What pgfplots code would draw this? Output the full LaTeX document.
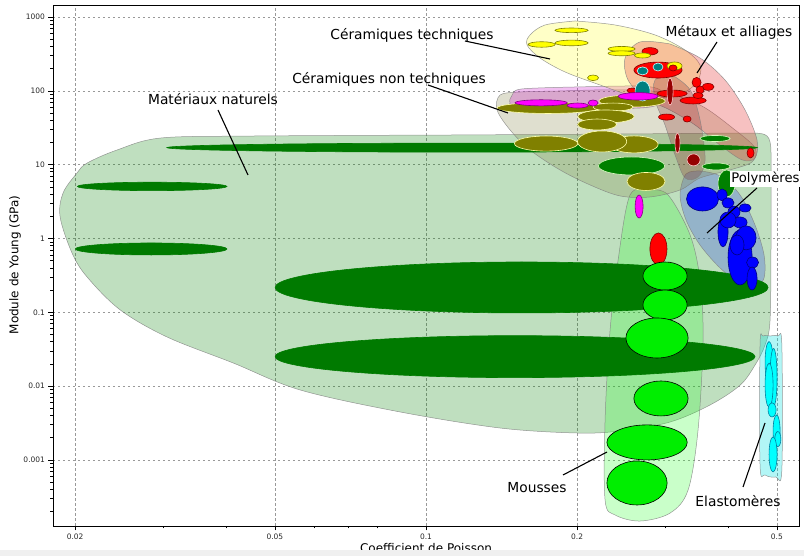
\documentclass[border=0pt]{standalone}
\usepackage{fontspec}
\setmainfont{DejaVu Sans}
\usepackage{pgfplots}
\pgfplotsset{compat=1.18}

% canvas length of one decade on each log axis (axis size / logarithmic span)
\newcommand\xdec{502}
\newcommand\ydec{73.83}
\newcommand\lab{\fontsize{13.8}{16}\selectfont}

\definecolor{envNat}{RGB}{0,128,0}
\definecolor{envFoam}{RGB}{40,255,40}
\definecolor{envPoly}{RGB}{70,100,220}
\definecolor{envElast}{RGB}{0,225,225}
\definecolor{envOlive}{RGB}{128,128,64}
\definecolor{envGlass}{RGB}{200,0,200}
\definecolor{envTech}{RGB}{255,255,0}
\definecolor{envMet}{RGB}{230,50,50}
\definecolor{envComp}{RGB}{128,30,30}

\definecolor{cDkGreen}{RGB}{0,122,0}
\definecolor{cGreen}{RGB}{0,128,0}
\definecolor{cGreenE}{RGB}{215,250,190}
\definecolor{cOlive}{RGB}{128,128,0}
\definecolor{cOliveE}{RGB}{255,255,170}
\definecolor{cRed}{RGB}{255,0,0}
\definecolor{cRedE}{RGB}{128,0,0}
\definecolor{cDkRed}{RGB}{150,0,0}
\definecolor{cDkRedE}{RGB}{255,200,200}
\definecolor{cTeal}{RGB}{0,128,128}
\definecolor{cTealE}{RGB}{200,255,255}
\definecolor{cYellow}{RGB}{255,255,0}
\definecolor{cYellowE}{RGB}{128,128,0}
\definecolor{cMag}{RGB}{255,0,255}
\definecolor{cMagE}{RGB}{128,0,128}
\definecolor{cLime}{RGB}{0,238,0}
\definecolor{cBlue}{RGB}{0,0,255}
\definecolor{cBlueE}{RGB}{0,0,130}
\definecolor{cCyan}{RGB}{0,255,255}
\definecolor{cCyanE}{RGB}{0,128,160}

% a property range: ellipse centred on (x,y), half-widths dx, dy given in decades
\pgfdeclareplotmark{proprange}{%
  \pgfpathellipse{\pgfpointorigin}{\pgfqpoint{\ellrx pt}{0pt}}{\pgfqpoint{0pt}{\ellry pt}}%
  \pgfusepathqfillstroke}

\pgfplotsset{
  family/.style 2 args={
    only marks, scatter, mark=proprange,
    visualization depends on={\xdec*\thisrow{dx} \as \ellrx},
    visualization depends on={\ydec*\thisrow{dy} \as \ellry},
    scatter/@pre marker code/.code={\scope[fill=#1,draw=#2,line width=0.6pt]},
    scatter/@post marker code/.code={\endscope},
  },
  env/.style={smooth, tension=0.55, fill=#1, fill opacity=0.25,
    draw=black!50, draw opacity=0.8, line width=0.5pt},
}

\begin{document}
\begin{tikzpicture}
\begin{axis}[
  width=746pt, height=521pt, scale only axis,
  xmode=log, ymode=log,
  xmin=0.01807, xmax=0.5535, ymin=1.276e-4, ymax=1453,
  xtick={0.02,0.05,0.1,0.2,0.5}, xticklabels={0.02,0.05,0.1,0.2,0.5},
  minor xtick={0.03,0.04,0.06,0.07,0.08,0.3,0.4},
  ytick={0.001,0.01,0.1,1,10,100,1000},
  yticklabels={0.001,0.01,0.1,1,10,100,1000},
  minor ytick={0.0002,0.0003,0.0004,0.0005,0.0006,0.0007,0.0008,0.0009,
    0.002,0.003,0.004,0.005,0.006,0.007,0.008,0.009,
    0.02,0.03,0.04,0.05,0.06,0.07,0.08,0.09,
    0.2,0.3,0.4,0.5,0.6,0.7,0.8,0.9,
    2,3,4,5,6,7,8,9, 20,30,40,50,60,70,80,90,
    200,300,400,500,600,700,800,900},
  xtick pos=bottom, ytick pos=left,
  tick align=outside,
  major tick length=4.5pt, minor tick length=2.5pt,
  tick style={black, line width=0.6pt},
  axis line style={black, line width=0.8pt},
  grid=major,
  major grid style={black!40, dash pattern=on 2.5pt off 2.5pt, line width=0.6pt},
  tick label style={font=\fontsize{7.5}{9}\selectfont, text=black!85},
  /pgf/number format/assume math mode=true,
]

% ---------- family envelopes ----------
% Matériaux naturels
\addplot[env=envNat] coordinates {
 (0.1117,25.2) (0.2436,26.0) (0.4224,26.8) (0.4629,26.4) (0.4780,24.4)
 (0.4847,20.2) (0.4869,13.5) (0.4869,3.32) (0.4869,0.954)
 (0.4847,0.0786) (0.4736,0.036) (0.4524,0.0193) (0.4224,0.0103) (0.3681,0.00556)
 (0.3064,0.00327) (0.2436,0.00247) (0.2,0.00232) (0.1405,0.00271) (0.08884,0.00447)
 (0.05614,0.00888) (0.0413,0.0206) (0.0305,0.0463) (0.02459,0.108) (0.02113,0.301)
 (0.01972,0.636) (0.01867,1.96) (0.01893,4.14) (0.02018,7.72) (0.02113,10.5)
 (0.02425,15.8) (0.02954,22.9) (0.04464,24.4) (0.1117,25.2)};
% Mousses
\addplot[env=envFoam] coordinates {
 (0.2795,4.54) (0.3036,3.89) (0.3359,1.115) (0.3516,0.274) (0.3565,0.0421)
 (0.3484,0.00255) (0.3328,0.000392) (0.3064,0.000191) (0.2670,0.000149)
 (0.2381,0.00018) (0.2274,0.000287) (0.2274,0.00348) (0.2327,0.0576)
 (0.2414,0.511) (0.2550,3.89) (0.2795,4.54)};
% Polymères
\addplot[env=envPoly, fill opacity=0.35] coordinates {
 (0.3516,8.21) (0.3854,7.03) (0.4224,3.89) (0.4524,1.52) (0.4715,0.598)
 (0.4715,0.292) (0.4524,0.220) (0.4224,0.249) (0.3854,0.399) (0.3516,0.816)
 (0.3297,1.78) (0.3208,3.89) (0.3297,7.48) (0.3516,8.21)};
% Elastomères
\addplot[env=envElast, fill opacity=0.3] coordinates {
 (0.4847,0.0477) (0.5023,0.0477) (0.5116,0.0360) (0.5116,0.000732)
 (0.4977,0.000589) (0.4736,0.000627) (0.4629,0.000856) (0.4629,0.0360)
 (0.4693,0.0477) (0.4847,0.0477)};
% Céramiques non techniques
\addplot[env=envOlive] coordinates {
 (0.1850,99.5) (0.2327,103) (0.2926,96.3) (0.3516,64.2) (0.4127,29.5)
 (0.4524,16.8) (0.4463,10.9) (0.4034,8.48) (0.3516,6.60) (0.3208,4.54)
 (0.2795,3.65) (0.2436,3.77) (0.2123,5.31) (0.1850,8.48) (0.1612,15.8)
 (0.1471,29.5) (0.1386,54.9) (0.1405,87.7) (0.1540,96.3) (0.1850,99.5)};
% Verres
\addplot[env=envGlass] coordinates {
 (0.2028,113) (0.2670,116) (0.2926,103) (0.2953,75.0) (0.2670,58.5)
 (0.1540,58.5) (0.1471,68.4) (0.1485,87.7) (0.1554,106) (0.2028,113)};
% Céramiques techniques
\addplot[env=envTech, fill opacity=0.22] coordinates {
 (0.1982,883) (0.2381,779) (0.2860,571) (0.3282,357) (0.3516,224)
 (0.3484,140) (0.3282,96.3) (0.2926,79.9) (0.2550,87.7) (0.2222,120)
 (0.1893,180) (0.1688,278) (0.1590,418) (0.1612,571) (0.1727,779) (0.1982,883)};
% Métaux et alliages
\addplot[env=envMet, fill opacity=0.3] coordinates {
 (0.3064,431) (0.3516,278) (0.3943,140) (0.4322,54.9) (0.4566,21.5)
 (0.4524,12.3) (0.4263,11.6) (0.3854,18.4) (0.3437,34.4) (0.3064,54.9)
 (0.2732,79.9) (0.2527,140) (0.2493,278) (0.2670,459) (0.3064,431)};
% Composites
\addplot[env=envComp] coordinates {
 (0.3092,164) (0.3359,103) (0.3516,40.2) (0.3598,11.6) (0.3484,6.81)
 (0.3282,6.60) (0.3135,13.5) (0.2994,34.4) (0.2860,75.0) (0.2860,140) (0.3092,164)};

% ---------- individual materials ----------
\addplot[family={cDkGreen}{cDkGreen}] table {
x y dx dy
0.1180 17.0 0.588 0.061
0.02848 5.07 0.149 0.057
0.02835 0.721 0.151 0.081
0.1551 0.217 0.491 0.345
0.1505 0.0251 0.478 0.284
};
\addplot[family={cGreen}{cGreenE}] table {
x y dx dy
0.3766 22.6 0.030 0.041
0.3783 9.45 0.028 0.047
0.2568 9.60 0.066 0.122
0.3971 5.56 0.017 0.183
};
\addplot[family={cOlive}{cOliveE}] table {
x y dx dy
0.1751 58.5 0.102 0.074
0.2574 72.7 0.066 0.081
0.2359 60.3 0.040 0.054
0.2284 44.9 0.056 0.088
0.2192 35.0 0.039 0.074
0.2597 18.8 0.048 0.115
0.1735 19.3 0.063 0.102
0.2243 20.6 0.049 0.142
0.2744 5.92 0.038 0.122
};
\addplot[family={cRed}{cRedE}] table {
x y dx dy
0.2574 101 0.010 0.034
0.2795 343 0.016 0.050
0.2899 191 0.048 0.108
};
\addplot[family={cTeal}{cTealE}] table {
x y dx dy
0.2701 186 0.011 0.054
0.2899 210 0.010 0.054
0.2701 99.4 0.015 0.135
};
\addplot[family={cYellow}{cYellowE}] table {
x y dx dy
0.1950 660 0.033 0.031
0.1700 424 0.027 0.037
0.1950 445 0.033 0.038
0.2453 369 0.027 0.034
0.2453 322 0.027 0.033
0.2701 301 0.016 0.034
0.2152 150 0.011 0.038
0.3128 217 0.015 0.054
};
\addplot[family={cMag}{cMagE}] table {
x y dx dy
0.1696 68.8 0.052 0.041
0.2005 63.2 0.021 0.034
0.2152 68.4 0.010 0.041
0.2646 84.2 0.040 0.050
0.2658 2.71 0.008 0.156
};
\addplot[family={cRed}{cRedE}] table {
x y dx dy
0.3106 204 0.008 0.041
0.3092 91.9 0.030 0.047
0.3460 130 0.009 0.068
0.3647 113 0.012 0.047
0.3516 103 0.008 0.054
0.3406 73.9 0.026 0.047
0.3484 86.4 0.010 0.041
0.3015 44.1 0.016 0.041
0.3313 41.5 0.008 0.041
0.4432 14.4 0.007 0.068
0.2905 0.721 0.017 0.217
};
\addplot[family={cDkRed}{cDkRedE}] table {
x y dx dy
0.3064 97.8 0.006 0.183
0.3170 19.6 0.005 0.135
0.3413 11.6 0.013 0.081
};
\addplot[family={cLime}{black}] table {
x y dx dy
0.2994 0.310 0.044 0.190
0.2994 0.1255 0.044 0.203
0.2886 0.0449 0.062 0.271
0.2939 0.00681 0.054 0.237
0.2757 0.00173 0.080 0.237
0.2633 0.000488 0.060 0.298
};
\addplot[family={cBlue}{cBlueE}] table {
x y dx dy
0.3557 3.43 0.032 0.163
0.4224 0.553 0.024 0.372
0.3907 1.23 0.010 0.203
0.4473 0.473 0.012 0.074
0.4463 0.287 0.010 0.156
0.4224 1.65 0.014 0.074
0.3890 3.89 0.010 0.081
0.3997 3.03 0.012 0.068
0.4108 2.28 0.012 0.081
0.3997 1.78 0.016 0.108
0.4322 2.59 0.012 0.054
0.4342 1.02 0.020 0.163
0.4166 0.816 0.014 0.135
};
\addplot[family={cCyan}{cCyanE}] table {
x y dx dy
0.4825 0.0209 0.008 0.284
0.4925 0.0131 0.007 0.393
0.4825 0.0103 0.008 0.298
0.4892 0.00476 0.008 0.095
0.4994 0.00247 0.007 0.217
0.5023 0.00192 0.006 0.102
0.4914 0.00119 0.008 0.237
};
\end{axis}

% labels and leaders, in page units measured from the top-left corner
\begin{scope}[shift={([xshift=-53pt,yshift=5pt]current axis.north west)}, x=1pt, y=-1pt]
  \draw[line width=1.1pt] (465,41) -- (550,59);
  \draw[line width=1.1pt] (428,85) -- (508,113);
  \draw[line width=1.1pt] (218,110) -- (248,175);
  \draw[line width=1.1pt] (717,42) -- (697,73);
  \draw[line width=1.1pt] (757,188) -- (707,233);
  \draw[line width=1.1pt] (563,475) -- (607,452);
  \draw[line width=1.1pt] (743,487) -- (765,423);
  \node[font=\lab] at (412,35) {Céramiques techniques};
  \node[font=\lab] at (389,79) {Céramiques non techniques};
  \node[font=\lab] at (213,99) {Matériaux naturels};
  \node[font=\lab] at (729,32) {Métaux et alliages};
  \node[font=\fontsize{13.2}{16}\selectfont, anchor=west, fill=white, inner sep=1.2pt] at (730,179) {Polymères};
  \node[font=\lab] at (537,488) {Mousses};
  \node[font=\lab] at (738,501) {Elastomères};
  \node[font=\fontsize{12}{14}\selectfont, rotate=90] at (15,265) {Module de Young (GPa)};
  \node[font=\fontsize{12}{14}\selectfont, anchor=north, inner sep=0pt] at (426,543) {Coefficient de Poisson};
  \fill[black!6] (0,550) rectangle (804,556);
\end{scope}

\pgfresetboundingbox
\path[use as bounding box] ([xshift=-53pt,yshift=-30pt]current axis.south west)
  rectangle ([xshift=5pt,yshift=5pt]current axis.north east);
\end{tikzpicture}
\end{document}
